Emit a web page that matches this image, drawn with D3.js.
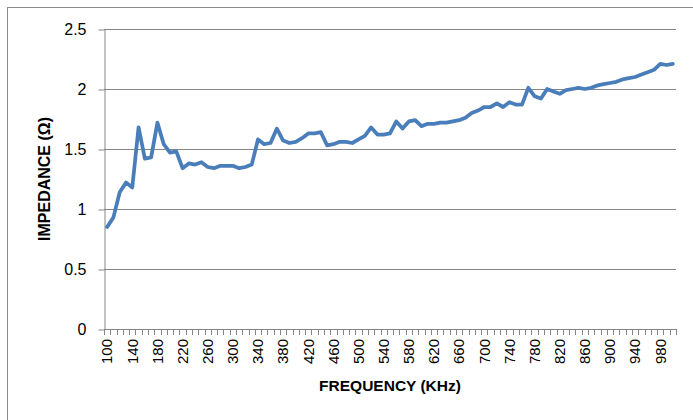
<!DOCTYPE html>
<html>
<head>
<meta charset="utf-8">
<script src="https://cdn.jsdelivr.net/npm/d3@7"></script>
<style>
  html, body { margin: 0; padding: 0; background: #fff; }
  svg { display: block; }
  text { font-family: "Liberation Sans", Arial, sans-serif; fill: #000; }
</style>
</head>
<body>
<script>
// ---- data ----
const frequencies = d3.range(100, 1001, 10); // 100..1000 kHz, step 10
const impedance = [
  0.85, 0.93, 1.14, 1.22, 1.18, 1.68, 1.42, 1.43, 1.72, 1.54,
  1.47, 1.48, 1.34, 1.38, 1.37, 1.39, 1.35, 1.34, 1.36, 1.36,
  1.36, 1.34, 1.35, 1.37, 1.58, 1.54, 1.55, 1.67, 1.57, 1.55,
  1.56, 1.59, 1.63, 1.63, 1.64, 1.53, 1.54, 1.56, 1.56, 1.55,
  1.58, 1.61, 1.68, 1.62, 1.62, 1.63, 1.73, 1.67, 1.73, 1.74,
  1.69, 1.71, 1.71, 1.72, 1.72, 1.73, 1.74, 1.76, 1.80, 1.82,
  1.85, 1.85, 1.88, 1.85, 1.89, 1.87, 1.87, 2.01, 1.94, 1.92,
  2.00, 1.98, 1.96, 1.99, 2.00, 2.01, 2.00, 2.01, 2.03, 2.04,
  2.05, 2.06, 2.08, 2.09, 2.10, 2.12, 2.14, 2.16, 2.21, 2.20,
  2.21
];
const yTicks = [0, 0.5, 1, 1.5, 2, 2.5];
const xLabelStep = 4; // label every 4th category
const xTitle = "FREQUENCY (KHz)";
const yTitle = "IMPEDANCE (Ω)";

// ---- layout ----
const W = 693, H = 420;
const plot = { left: 104, right: 676, top: 29, bottom: 329 };

const svg = d3.select("body").append("svg")
  .attr("width", W).attr("height", H);

// chart border
svg.append("rect")
  .attr("x", 7.5).attr("y", 7.5)
  .attr("width", 700).attr("height", 500)
  .attr("fill", "none").attr("stroke", "#8a8a8a").attr("stroke-width", 1);

const x = d3.scaleBand()
  .domain(frequencies)
  .range([plot.left, plot.right])
  .padding(0);

const y = d3.scaleLinear()
  .domain([0, 2.5])
  .range([plot.bottom, plot.top]);

// gridlines
svg.append("g")
  .selectAll("line")
  .data(yTicks.filter(d => d > 0))
  .join("line")
  .attr("x1", plot.left).attr("x2", plot.right)
  .attr("y1", d => Math.round(y(d)) + 0.5).attr("y2", d => Math.round(y(d)) + 0.5)
  .attr("stroke", "#868686").attr("stroke-width", 1);

// y axis
const yAxis = svg.append("g")
  .attr("transform", `translate(${plot.left + 0.5},0.5)`)
  .call(d3.axisLeft(y).tickValues(yTicks).tickSize(6).tickSizeOuter(0)
    .tickFormat(d => d3.format("")(d)));
yAxis.select(".domain").attr("stroke", "#868686");
yAxis.selectAll(".tick line").attr("stroke", "#868686");
yAxis.selectAll(".tick text")
  .attr("x", -18)
  .style("font-size", "16px")
  .style("font-family", "'Liberation Sans', Arial, sans-serif")
  .attr("fill", "#000");

// x axis line
svg.append("line")
  .attr("x1", plot.left).attr("x2", plot.right)
  .attr("y1", plot.bottom + 0.5).attr("y2", plot.bottom + 0.5)
  .attr("stroke", "#868686");

// x tick marks at category boundaries
const boundaries = frequencies.map(f => x(f)).concat([x(frequencies[frequencies.length - 1]) + x.bandwidth()]);
svg.append("g")
  .selectAll("line")
  .data(boundaries)
  .join("line")
  .attr("x1", d => Math.round(d) + 0.5).attr("x2", d => Math.round(d) + 0.5)
  .attr("y1", plot.bottom).attr("y2", plot.bottom + 6)
  .attr("stroke", "#868686");

// x labels
svg.append("g")
  .selectAll("text")
  .data(frequencies.filter((f, i) => i % xLabelStep === 0 && f < 1000))
  .join("text")
  .attr("transform", d => `translate(${x(d) + x.bandwidth() / 2},${plot.bottom + 10}) rotate(-90)`)
  .attr("text-anchor", "end")
  .attr("dy", "0.35em")
  .style("font-size", "15px")
  .text(d => d);

// line
const line = d3.line()
  .x((d, i) => x(frequencies[i]) + x.bandwidth() / 2)
  .y(d => y(d));

svg.append("path")
  .datum(impedance)
  .attr("d", line)
  .attr("fill", "none")
  .attr("stroke", "#4a7ebb")
  .attr("stroke-width", 3.75)
  .attr("stroke-linejoin", "round")
  .attr("stroke-linecap", "round");

// axis titles
svg.append("text")
  .attr("x", 390)
  .attr("y", 391)
  .attr("text-anchor", "middle")
  .style("font-size", "15.5px")
  .style("font-weight", "bold")
  .text(xTitle);

svg.append("text")
  .attr("transform", `translate(50,179) rotate(-90)`)
  .attr("text-anchor", "middle")
  .style("font-size", "16px")
  .style("font-weight", "bold")
  .text(yTitle);
</script>
</body>
</html>
